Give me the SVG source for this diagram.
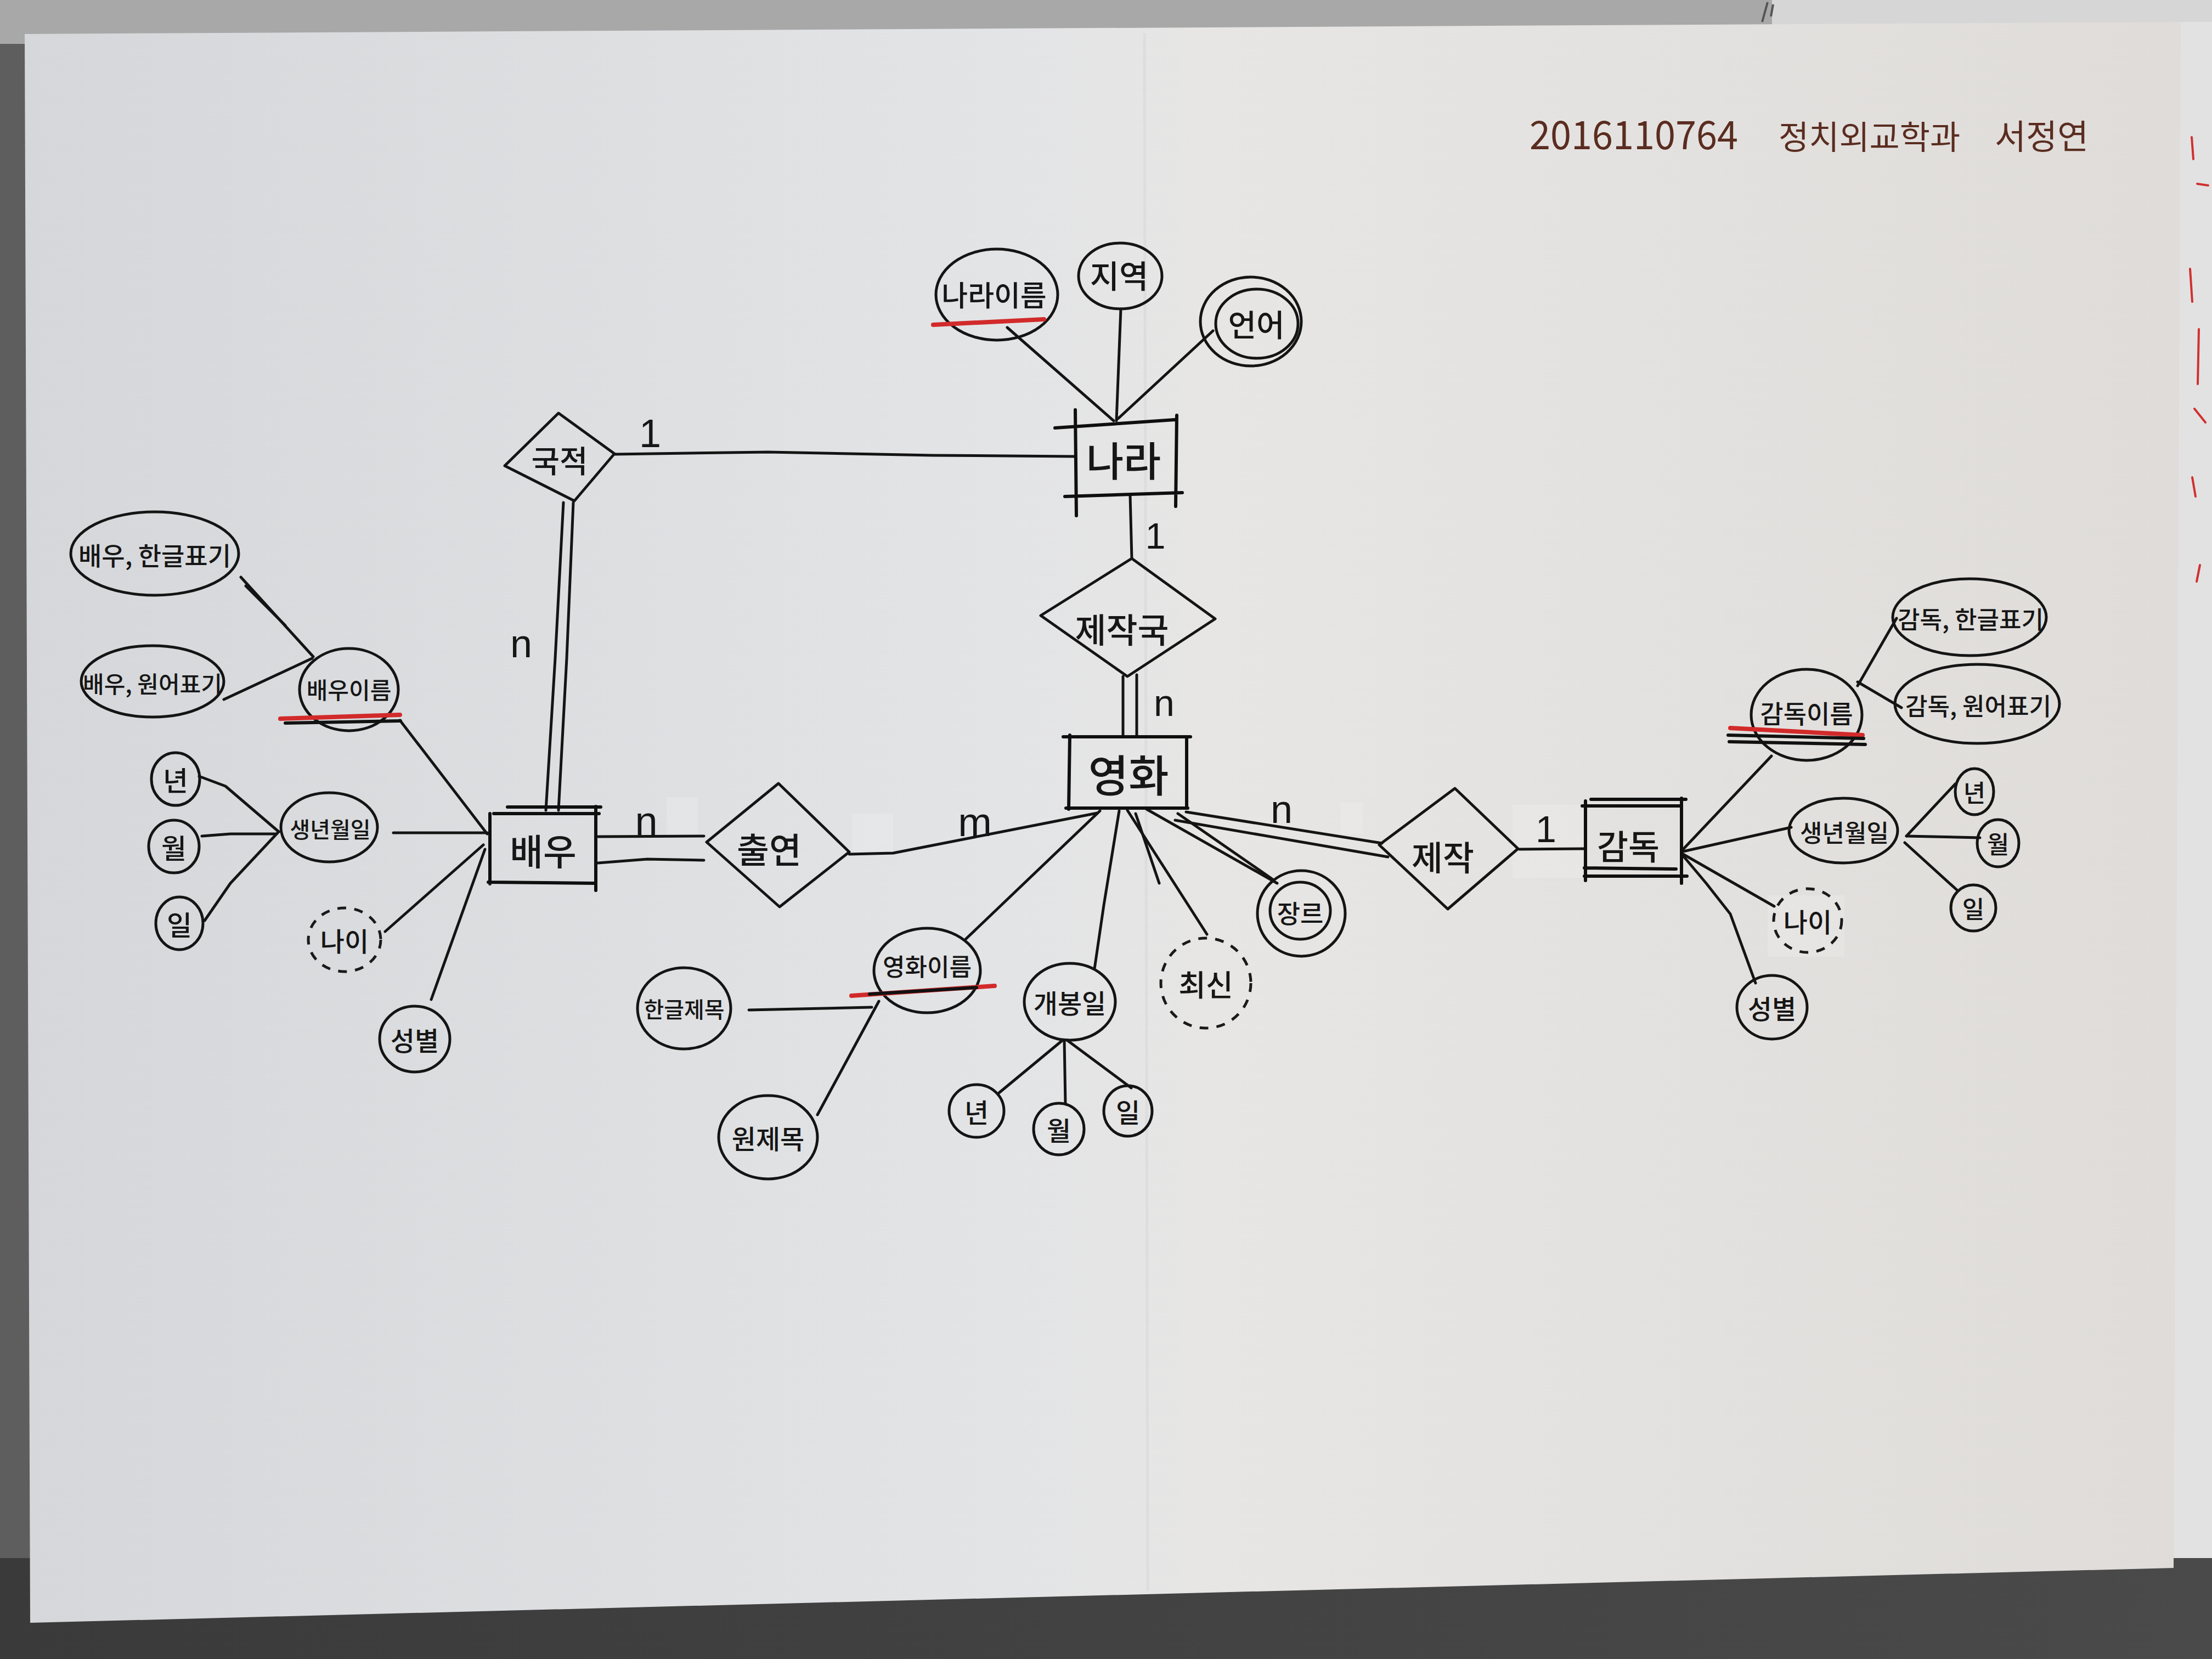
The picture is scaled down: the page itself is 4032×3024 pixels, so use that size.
<svg xmlns="http://www.w3.org/2000/svg" width="4032" height="3024" viewBox="0 0 4032 3024">
  <defs>
    <linearGradient id="paperFill" x1="0" y1="0" x2="1" y2="0">
      <stop offset="0" stop-color="#d5d7da"/>
      <stop offset="0.45" stop-color="#e3e4e6"/>
      <stop offset="0.55" stop-color="#e7e6e5"/>
      <stop offset="1" stop-color="#dfdcd9"/>
    </linearGradient>
    <linearGradient id="tableFill" x1="0" y1="0" x2="1" y2="0">
      <stop offset="0" stop-color="#3a3a3a"/>
      <stop offset="1" stop-color="#4a4a4a"/>
    </linearGradient>
    <style>
      .ln { fill: none; stroke: #141414; stroke-width: 5; stroke-linecap: round; stroke-linejoin: round; }
      .ent { fill: none; stroke: #0f0f0f; stroke-width: 6; stroke-linecap: round; }
      .rel { fill: none; stroke: #141414; stroke-width: 5; stroke-linejoin: round; }
      .att { fill: none; stroke: #141414; stroke-width: 5; }
      .der { fill: none; stroke: #1a1a1a; stroke-width: 5; stroke-dasharray: 16 15; }
      .key { fill: none; stroke: #d22a2a; stroke-width: 8; stroke-linecap: round; }
      .keyk { fill: none; stroke: #111; stroke-width: 6; stroke-linecap: round; }
      .t { font-family: "Noto Sans CJK KR", "Noto Sans", sans-serif; font-weight: 500; fill: #161616; text-anchor: middle; dominant-baseline: central; }
      .card { font-family: "Liberation Sans", "Noto Sans", sans-serif; fill: #161616; text-anchor: middle; }
      .tape { fill: #f6f6f4; opacity: 0.22; }
    </style>
  </defs>

  <!-- surroundings of the sheet -->
  <rect x="0" y="0" width="4032" height="3024" fill="#5e5e5e"/>
  <rect x="0" y="0" width="4032" height="80" fill="#a8a8a8"/>
  <polygon points="3230,0 4032,0 4032,60 3230,55" fill="#d6d6d6"/>
  <path d="M3222,4 L3212,40 M3232,8 L3228,30" stroke="#555" stroke-width="4" fill="none"/>
  <polygon points="3960,40 4032,40 4032,2860 3955,2860" fill="#e2e2e2"/>
  <rect x="0" y="2840" width="4032" height="184" fill="url(#tableFill)"/>
  <g stroke="#d03030" stroke-width="4" fill="none" stroke-linecap="round">
    <path d="M3995,250 L3998,290"/>
    <path d="M4005,335 L4025,338"/>
    <path d="M3992,490 L3996,550"/>
    <path d="M4008,600 L4006,700"/>
    <path d="M4000,745 L4020,770"/>
    <path d="M3996,870 L4002,905"/>
    <path d="M4010,1030 L4004,1060"/>
  </g>

  <!-- the sheet -->
  <polygon points="45,62 3975,40 3962,2858 55,2958" fill="url(#paperFill)"/>
  <path d="M2086,60 L2092,2900" stroke="#cfcfcf" stroke-width="5" opacity="0.35" fill="none"/>

  <!-- tape strips -->
  <g id="tape">
    <rect class="tape" x="1215" y="1453" width="57" height="70"/>
    <rect class="tape" x="1553" y="1483" width="75" height="70"/>
    <rect class="tape" x="2443" y="1463" width="41" height="57"/>
    <rect class="tape" x="2757" y="1467" width="128" height="133"/>
    <rect class="tape" x="3222" y="1632" width="140" height="112"/>
  </g>

  <!-- author line -->
  <g id="header" fill="#5a2c20" font-family="'Noto Sans CJK KR', 'Liberation Sans', sans-serif">
    <text x="2788" y="272" font-size="72" textLength="380" lengthAdjust="spacingAndGlyphs">2016110764</text>
    <text x="3242" y="272" font-size="60">정치외교학과</text>
    <text x="3636" y="272" font-size="62">서정연</text>
  </g>

  <!-- connectors -->
  <g id="connectors">
    <!-- relationship lines -->
    <path class="ln" d="M1120,828 L1400,824 L1700,830 L1958,832"/>
    <path class="ln" d="M1027,916 L1012,1200 L995,1477"/>
    <path class="ln" d="M1045,916 L1033,1200 L1018,1477"/>
    <path class="ln" d="M2060,903 L2063,1018"/>
    <path class="ln" d="M2047,1233 L2047,1343"/>
    <path class="ln" d="M2072,1230 L2072,1343"/>
    <path class="ln" d="M1090,1525 L1283,1524" stroke-width="8"/>
    <path class="ln" d="M1090,1573 L1180,1566 L1283,1568" stroke-width="8"/>
    <path class="ln" d="M1548,1557 L1628,1555 L2000,1482"/>
    <path class="ln" d="M2162,1480 L2519,1537"/>
    <path class="ln" d="M2142,1495 L2530,1562"/>
    <path class="ln" d="M2769,1548 L2890,1547"/>

    <!-- nation attributes -->
    <path class="ln" d="M1836,597 L2030,767"/>
    <path class="ln" d="M2043,563 L2035,767"/>
    <path class="ln" d="M2211,603 L2038,763"/>

    <!-- actor attributes -->
    <path class="ln" d="M439,1052 L571,1197"/>
    <path class="ln" d="M448,1068 L520,1140"/>
    <path class="ln" d="M408,1275 L569,1200"/>
    <path class="ln" d="M729,1313 L888,1520"/>
    <path class="ln" d="M717,1518 L888,1518"/>
    <path class="ln" d="M363,1415 L411,1433 L508,1516"/>
    <path class="ln" d="M368,1524 L420,1520 L503,1520"/>
    <path class="ln" d="M373,1678 L420,1610 L508,1516"/>
    <path class="ln" d="M702,1698 L881,1540"/>
    <path class="ln" d="M786,1822 L884,1548"/>

    <!-- movie attributes -->
    <path class="ln" d="M1759,1713 L2005,1478"/>
    <path class="ln" d="M1365,1841 L1589,1836"/>
    <path class="ln" d="M1490,2032 L1602,1825"/>
    <path class="ln" d="M1995,1766 L2012,1650 L2040,1478"/>
    <path class="ln" d="M1937,1896 L1821,1992"/>
    <path class="ln" d="M1940,1896 L1942,2012"/>
    <path class="ln" d="M1945,1896 L2062,1983"/>
    <path class="ln" d="M2055,1477 L2200,1703"/>
    <path class="ln" d="M2070,1483 L2113,1610"/>
    <path class="ln" d="M2090,1475 L2328,1610"/>
    <path class="ln" d="M2147,1483 L2320,1603"/>

    <!-- director attributes -->
    <path class="ln" d="M3229,1378 L3068,1548"/>
    <path class="ln" d="M3457,1127 L3386,1250"/>
    <path class="ln" d="M3466,1290 L3386,1243"/>
    <path class="ln" d="M3265,1508 L3068,1552"/>
    <path class="ln" d="M3475,1524 L3564,1429"/>
    <path class="ln" d="M3475,1524 L3609,1527"/>
    <path class="ln" d="M3472,1536 L3569,1624"/>
    <path class="ln" d="M3234,1652 L3068,1557"/>
    <path class="ln" d="M3068,1560 L3110,1610 L3154,1666 L3200,1792"/>

    <!-- cardinalities -->
    <text class="card" x="1185" y="815" font-size="72">1</text>
    <text class="card" x="950" y="1198" font-size="72">n</text>
    <text class="card" x="2106" y="1000" font-size="66">1</text>
    <text class="card" x="2122" y="1305" font-size="68">n</text>
    <text class="card" x="1178" y="1522" font-size="74">n</text>
    <text class="card" x="1777" y="1524" font-size="74">m</text>
    <text class="card" x="2336" y="1500" font-size="72">n</text>
    <text class="card" x="2818" y="1535" font-size="68">1</text>
  </g>

  <!-- entities -->
  <g id="nation">
    <path class="ent" d="M1923,780 L2142,765 M1941,905 L2155,898 M1960,747 L1962,940 M2145,757 L2143,923"/>
    <text class="t" x="2048" y="835" font-size="74">나라</text>
  </g>
  <g id="actor">
    <path class="ent" d="M925,1471 L1095,1471 M900,1483 L1092,1483 M890,1608 L1083,1610 M893,1483 L893,1611 M1086,1470 L1086,1623"/>
    <text class="t" x="990" y="1548" font-size="66">배우</text>
  </g>
  <g id="movie">
    <path class="ent" stroke-width="7" d="M1938,1343 L2170,1343 M1950,1340 L1948,1475 M2163,1343 L2163,1473 M1943,1473 L2165,1473"/>
    <text class="t" x="2057" y="1408" font-size="80">영화</text>
  </g>
  <g id="director">
    <path class="ent" d="M2900,1457 L3073,1457 M2884,1469 L3065,1469 M2890,1460 L2890,1605 M3065,1455 L3065,1610 M2888,1582 L3055,1584 M2888,1597 L3075,1597"/>
    <text class="t" x="2968" y="1540" font-size="62">감독</text>
  </g>

  <!-- relationships -->
  <g id="nationality">
    <polygon class="rel" points="920,849 1018,753 1120,827 1047,913"/>
    <text class="t" x="1020" y="836" font-size="56">국적</text>
  </g>
  <g id="producing-country">
    <polygon class="rel" points="2063,1018 2215,1128 2055,1233 1897,1122"/>
    <text class="t" x="2045" y="1145" font-size="62">제작국</text>
  </g>
  <g id="appearance">
    <polygon class="rel" points="1419,1428 1548,1553 1421,1653 1288,1535"/>
    <text class="t" x="1402" y="1545" font-size="64">출연</text>
  </g>
  <g id="production">
    <polygon class="rel" points="2652,1437 2767,1547 2639,1657 2514,1540"/>
    <text class="t" x="2630" y="1560" font-size="62">제작</text>
  </g>

  <!-- nation attributes -->
  <g id="nation-name">
    <ellipse class="att" cx="1817" cy="537" rx="111" ry="83"/>
    <path class="key" d="M1701,592 L1903,582"/>
    <text class="t" x="1812" y="535" font-size="52">나라이름</text>
  </g>
  <g id="region">
    <ellipse class="att" cx="2042" cy="503" rx="76" ry="60"/>
    <text class="t" x="2040" y="500" font-size="58">지역</text>
  </g>
  <g id="language">
    <ellipse class="att" cx="2280" cy="586" rx="92" ry="81"/>
    <ellipse class="att" cx="2291" cy="590" rx="75" ry="63"/>
    <text class="t" x="2290" y="588" font-size="56">언어</text>
  </g>

  <!-- actor attributes -->
  <g id="actor-name-ko">
    <ellipse class="att" cx="282" cy="1009" rx="153" ry="76"/>
    <text class="t" x="282" y="1010" font-size="46">배우, 한글표기</text>
  </g>
  <g id="actor-name-orig">
    <ellipse class="att" cx="278" cy="1242" rx="130" ry="65"/>
    <text class="t" x="278" y="1244" font-size="42">배우, 원어표기</text>
  </g>
  <g id="actor-name">
    <ellipse class="att" cx="636" cy="1257" rx="90" ry="75"/>
    <path class="key" d="M511,1310 L729,1303"/>
    <path class="keyk" d="M520,1318 L730,1314" stroke-width="4"/>
    <text class="t" x="636" y="1255" font-size="42">배우이름</text>
  </g>
  <g id="actor-birth">
    <ellipse class="att" cx="600" cy="1508" rx="88" ry="63"/>
    <text class="t" x="602" y="1510" font-size="40">생년월일</text>
  </g>
  <g id="actor-year">
    <ellipse class="att" cx="320" cy="1420" rx="44" ry="48"/>
    <text class="t" x="320" y="1420" font-size="50">년</text>
  </g>
  <g id="actor-month">
    <ellipse class="att" cx="317" cy="1543" rx="46" ry="48"/>
    <text class="t" x="317" y="1543" font-size="50">월</text>
  </g>
  <g id="actor-day">
    <ellipse class="att" cx="327" cy="1683" rx="43" ry="48"/>
    <text class="t" x="327" y="1683" font-size="50">일</text>
  </g>
  <g id="actor-age">
    <ellipse class="der" cx="628" cy="1713" rx="66" ry="58"/>
    <text class="t" x="628" y="1713" font-size="48">나이</text>
  </g>
  <g id="actor-gender">
    <ellipse class="att" cx="756" cy="1894" rx="64" ry="60"/>
    <text class="t" x="756" y="1894" font-size="48">성별</text>
  </g>

  <!-- movie attributes -->
  <g id="movie-name">
    <ellipse class="att" cx="1690" cy="1769" rx="97" ry="77"/>
    <path class="key" d="M1552,1815 L1813,1797"/>
    <path class="keyk" d="M1585,1812 L1780,1800" stroke-width="12"/>
    <text class="t" x="1690" y="1760" font-size="44">영화이름</text>
  </g>
  <g id="title-ko">
    <ellipse class="att" cx="1247" cy="1838" rx="85" ry="74"/>
    <text class="t" x="1247" y="1838" font-size="40">한글제목</text>
  </g>
  <g id="title-orig">
    <ellipse class="att" cx="1400" cy="2073" rx="90" ry="76"/>
    <text class="t" x="1400" y="2073" font-size="48">원제목</text>
  </g>
  <g id="release-date">
    <ellipse class="att" cx="1950" cy="1826" rx="83" ry="70"/>
    <text class="t" x="1950" y="1826" font-size="48">개봉일</text>
  </g>
  <g id="release-year">
    <ellipse class="att" cx="1780" cy="2025" rx="50" ry="48"/>
    <text class="t" x="1780" y="2025" font-size="48">년</text>
  </g>
  <g id="release-month">
    <ellipse class="att" cx="1930" cy="2058" rx="46" ry="47"/>
    <text class="t" x="1930" y="2058" font-size="48">월</text>
  </g>
  <g id="release-day">
    <ellipse class="att" cx="2056" cy="2025" rx="44" ry="46"/>
    <text class="t" x="2056" y="2025" font-size="48">일</text>
  </g>
  <g id="latest">
    <ellipse class="der" cx="2198" cy="1792" rx="82" ry="82"/>
    <text class="t" x="2198" y="1792" font-size="54">최신</text>
  </g>
  <g id="genre">
    <ellipse class="att" cx="2372" cy="1665" rx="80" ry="78"/>
    <ellipse class="att" cx="2370" cy="1660" rx="55" ry="52"/>
    <text class="t" x="2370" y="1662" font-size="46">장르</text>
  </g>

  <!-- director attributes -->
  <g id="director-name">
    <ellipse class="att" cx="3293" cy="1303" rx="101" ry="83"/>
    <path class="key" d="M3154,1327 L3395,1340"/>
    <path class="keyk" d="M3150,1340 L3397,1346" stroke-width="4"/>
    <path class="keyk" d="M3152,1352 L3400,1357" stroke-width="4"/>
    <text class="t" x="3293" y="1298" font-size="46">감독이름</text>
  </g>
  <g id="director-name-ko">
    <ellipse class="att" cx="3590" cy="1125" rx="140" ry="70"/>
    <text class="t" x="3592" y="1127" font-size="44">감독, 한글표기</text>
  </g>
  <g id="director-name-orig">
    <ellipse class="att" cx="3604" cy="1283" rx="150" ry="72"/>
    <text class="t" x="3606" y="1285" font-size="44">감독, 원어표기</text>
  </g>
  <g id="director-birth">
    <ellipse class="att" cx="3360" cy="1514" rx="99" ry="59"/>
    <text class="t" x="3362" y="1516" font-size="44">생년월일</text>
  </g>
  <g id="director-year">
    <ellipse class="att" cx="3599" cy="1443" rx="35" ry="42"/>
    <text class="t" x="3599" y="1443" font-size="44">년</text>
  </g>
  <g id="director-month">
    <ellipse class="att" cx="3642" cy="1537" rx="38" ry="43"/>
    <text class="t" x="3642" y="1537" font-size="44">월</text>
  </g>
  <g id="director-day">
    <ellipse class="att" cx="3597" cy="1655" rx="41" ry="42"/>
    <text class="t" x="3597" y="1655" font-size="44">일</text>
  </g>
  <g id="director-age">
    <ellipse class="der" cx="3295" cy="1678" rx="62" ry="58"/>
    <text class="t" x="3295" y="1678" font-size="48">나이</text>
  </g>
  <g id="director-gender">
    <ellipse class="att" cx="3230" cy="1836" rx="64" ry="58"/>
    <text class="t" x="3230" y="1836" font-size="48">성별</text>
  </g>
</svg>
